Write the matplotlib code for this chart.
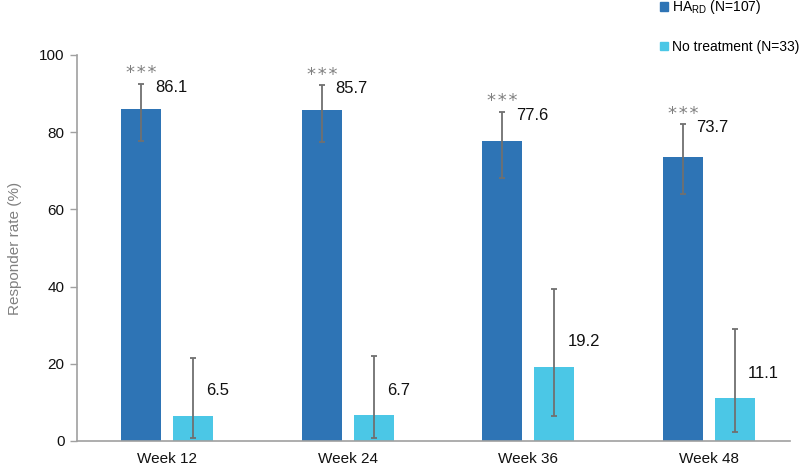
import matplotlib
matplotlib.use("Agg")
import matplotlib.pyplot as plt
from matplotlib.patches import Patch
import numpy as np

plt.rcParams['font.family'] = ['Liberation Sans', 'DejaVu Sans']
plt.rcParams['mathtext.fontset'] = 'custom'
plt.rcParams['mathtext.rm'] = 'Liberation Sans'
plt.rcParams['mathtext.it'] = 'Liberation Sans'

categories = ["Week 12", "Week 24", "Week 36", "Week 48"]
hard_values = [86.1, 85.7, 77.6, 73.7]
hard_ci_low = [77.8, 77.4, 68.1, 63.9]
hard_ci_high = [92.5, 92.2, 85.3, 82.1]
nt_values = [6.5, 6.7, 19.2, 11.1]
nt_ci_low = [0.8, 0.9, 6.6, 2.4]
nt_ci_high = [21.5, 22.1, 39.3, 29.1]
significance = ["***", "***", "***", "***"]
series_labels = ["HA$_{\\mathrm{RD}}$ (N=107)", "No treatment (N=33)"]
yticks = [0, 20, 40, 60, 80, 100]

dark = "#2E74B5"
light = "#4BC7E6"
err_color = "#707070"

fig = plt.figure(figsize=(8, 4.66), dpi=100)
ax = fig.add_axes([77/800, 1 - 441/466, 713/800, (441 - 55)/466])

x = np.arange(len(categories))
w = 0.222
off = 0.143

hv = np.array(hard_values)
nv = np.array(nt_values)
h_err = [hv - np.array(hard_ci_low), np.array(hard_ci_high) - hv]
n_err = [nv - np.array(nt_ci_low), np.array(nt_ci_high) - nv]

ax.bar(x - off, hv, w, color=dark, zorder=2)
ax.bar(x + off, nv, w, color=light, zorder=2)
ekw = dict(fmt='none', ecolor=err_color, elinewidth=1.3, capsize=2.5, capthick=1.3, zorder=3)
ax.errorbar(x - off, hv, yerr=h_err, **ekw)
ax.errorbar(x + off, nv, yerr=n_err, **ekw)

for i in range(len(categories)):
    ax.text(x[i] - off + 0.075, hard_ci_high[i] - 1.0, f"{hard_values[i]}",
            ha='left', va='center', fontsize=12, color='#111111')
    ax.text(x[i] + off + 0.075, nt_values[i] + 6.5, f"{nt_values[i]}",
            ha='left', va='center', fontsize=12, color='#111111')
    ax.annotate("\u200a".join(significance[i]), (x[i] - off, hard_ci_high[i]), xytext=(0, 4),
                textcoords='offset points', ha='center', va='baseline',
                fontsize=13, color='#808080', family='DejaVu Sans')

ax.set_xlim(-0.5, 3.45)
ax.set_ylim(0, 100)
ax.set_yticks(yticks)
ax.set_xticks(x)
ax.set_xticklabels(categories, fontsize=11, color='#111111')
ax.tick_params(axis='x', length=0, pad=8)
ax.tick_params(axis='y', length=5, width=1, color='#A0A0A0', labelsize=11, labelcolor='#111111', pad=4)
for s in ['top', 'right']:
    ax.spines[s].set_visible(False)
for s in ['left', 'bottom']:
    ax.spines[s].set_color('#A0A0A0')
    ax.spines[s].set_linewidth(1.2)
ax.set_ylabel("Responder rate (%)", fontsize=11, color='#808080', labelpad=12)

handles = [Patch(color=dark), Patch(color=light)]
fig.legend(handles, series_labels, loc='upper left', bbox_to_anchor=(659/800, 1.0 + 3/466),
           frameon=False, fontsize=10, handlelength=0.55, handleheight=0.55,
           handletextpad=0.3, labelspacing=1.7, borderpad=0.1, borderaxespad=0)

fig.savefig("out.png", dpi=100)
